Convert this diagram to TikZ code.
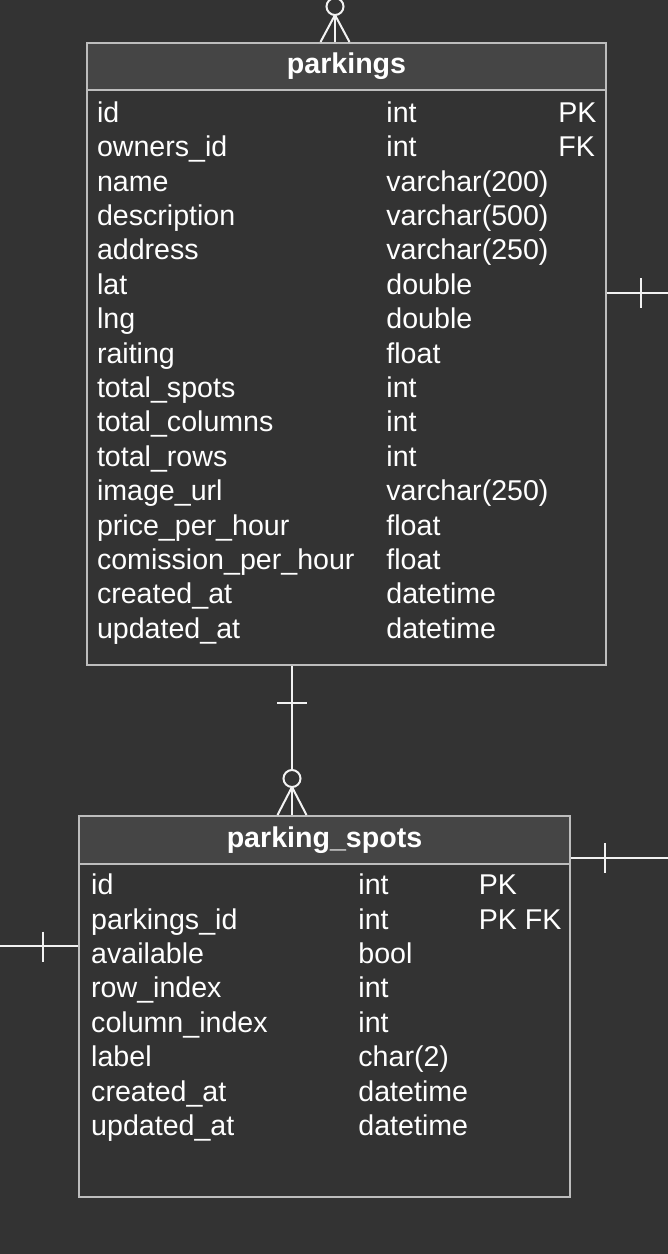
\documentclass[tikz,border=0pt]{standalone}
\usepackage{fontspec}
\setmainfont{Liberation Sans}
\usetikzlibrary{positioning,calc}
\definecolor{bgdark}{HTML}{333333}
\definecolor{headfill}{HTML}{454545}
\definecolor{framegray}{HTML}{BDBDBD}
\definecolor{linkwhite}{HTML}{F2F2F2}

\begin{document}
\begin{tikzpicture}[x=0.5pt, y=-0.5pt,
    tblframe/.style={draw=framegray, line width=1pt, anchor=north west, inner sep=0pt},
    tblhead/.style={draw=framegray, fill=headfill, line width=1pt, anchor=north west, inner sep=0pt,
        text=white, font=\fontsize{14.3}{17}\selectfont\bfseries},
    fieldtxt/.style={anchor=base west, inner sep=0pt, text=white, font=\fontsize{14.3}{17}\selectfont},
    link/.style={draw=linkwhite, line width=1pt}]

    % Background
    \fill[bgdark] (0,0) rectangle (668,1254);
    \useasboundingbox (0,0) rectangle (668,1254);

    % Table parkings
    \node[tblframe, minimum width=259.5pt, minimum height=311pt] (parkings) at (86,42) {};
    \node[tblhead, minimum width=259.5pt, minimum height=23.5pt] (parkingshead) at (86,42) {parkings};
    \foreach \fname/\ftype/\fkey [count=\i] in {id/int/PK, owners\_id/int/FK, name/varchar(200)/,
        description/varchar(500)/, address/varchar(250)/, lat/double/, lng/double/, raiting/float/,
        total\_spots/int/, total\_columns/int/, total\_rows/int/, image\_url/varchar(250)/,
        price\_per\_hour/float/, comission\_per\_hour/float/, created\_at/datetime/, updated\_at/datetime/} {
        \node[fieldtxt] (pname\i) at (96.6, {122.3+34.4*(\i-1)}) {\fname};
        \node[fieldtxt] (ptype\i) at (386, {122.3+34.4*(\i-1)}) {\ftype};
        \node[fieldtxt] (pkey\i) at (558, {122.3+34.4*(\i-1)}) {\fkey};
    }

    % Table parking_spots
    \node[tblframe, minimum width=245.5pt, minimum height=190.5pt] (spots) at (78,815) {};
    \node[tblhead, minimum width=245.5pt, minimum height=23.8pt] (spotshead) at (78,815) {parking\_spots};
    \foreach \fname/\ftype/\fkey [count=\i] in {id/int/PK, parkings\_id/int/PK FK, available/bool/,
        row\_index/int/, column\_index/int/, label/char(2)/, created\_at/datetime/, updated\_at/datetime/} {
        \node[fieldtxt] (sname\i) at (90.8, {894.6+34.4*(\i-1)}) {\fname};
        \node[fieldtxt] (stype\i) at (358, {894.6+34.4*(\i-1)}) {\ftype};
        \node[fieldtxt] (skey\i) at (478.5, {894.6+34.4*(\i-1)}) {\fkey};
    }

    % Link leaving the top of parkings (zero or many)
    \coordinate (topend) at (335,0);
    \coordinate (topfoot) at (335,15);
    \draw[link] (topend) -- (topend |- parkings.north);
    \draw[link] ($(topend |- parkings.north)+(-14.5,0)$) -- (topfoot) -- ($(topend |- parkings.north)+(14.5,0)$);
    \filldraw[link, fill=bgdark] (335,6.5) circle (8.5);

    % Link parkings -- parking_spots (one to zero or many)
    \coordinate (midx) at (292,0);
    \coordinate (midfoot) at (292,787);
    \draw[link] (parkings.south -| midx) -- (spots.north -| midx);
    \draw[link] ($(parkings.south -| midx)+(-15,36.7)$) -- ++(30,0);
    \draw[link] ($(spots.north -| midx)+(-14.5,0)$) -- (midfoot) -- ($(spots.north -| midx)+(14.5,0)$);
    \filldraw[link, fill=bgdark] (292,778.5) circle (8.5);

    % Link leaving the right side of parkings
    \coordinate (prightend) at (668,293);
    \draw[link] (parkings.east |- prightend) -- (prightend);
    \draw[link] (640.7,278) -- (640.7,308);

    % Link leaving the right side of parking_spots
    \coordinate (srightend) at (668,858.3);
    \draw[link] (spots.east |- srightend) -- (srightend);
    \draw[link] (605,843) -- (605,873);

    % Link entering the left side of parking_spots
    \coordinate (sleftend) at (0,946);
    \draw[link] (sleftend) -- (spots.west |- sleftend);
    \draw[link] (42.7,931.5) -- (42.7,961.5);
\end{tikzpicture}
\end{document}
